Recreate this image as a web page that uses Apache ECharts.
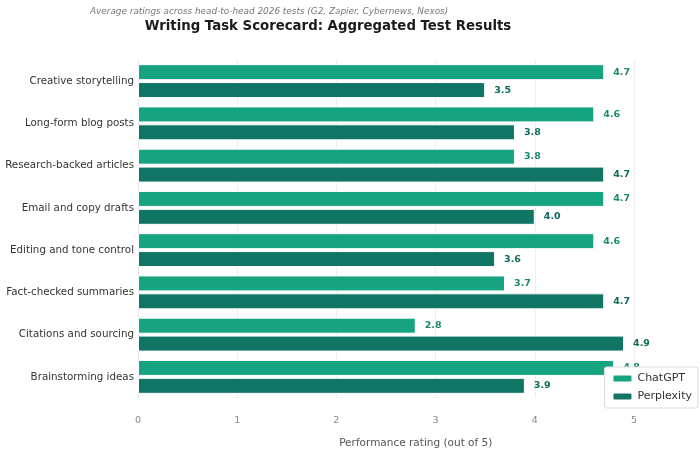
<!DOCTYPE html>
<html><head><meta charset="utf-8">
<script src="https://cdn.jsdelivr.net/npm/echarts@6/dist/echarts.min.js"></script>
<style>html,body{margin:0;padding:0;background:#fff}#c{width:700px;height:454px}</style>
</head><body><div id="c"></div>
<script>
const categories = ["Creative storytelling","Long-form blog posts","Research-backed articles","Email and copy drafts","Editing and tone control","Fact-checked summaries","Citations and sourcing","Brainstorming ideas"];
const chatgpt = [4.7,4.6,3.8,4.7,4.6,3.7,2.8,4.8];
const perplexity = [3.5,3.8,4.7,4.0,3.6,4.7,4.9,3.9];
const xTicks = [0,1,2,3,4,5];

const chart = echarts.init(document.getElementById('c'));
const font = 'DejaVu Sans';
chart.setOption({
  animation:false,
  textStyle:{fontFamily:font},
  title:[
    {text:'Average ratings across head-to-head 2026 tests (G2, Zapier, Cybernews, Nexos)', left:85, top:2,
     textStyle:{fontSize:8.9, fontStyle:'italic', fontWeight:'normal', color:'#777', fontFamily:font}},
    {text:'Writing Task Scorecard: Aggregated Test Results', left:323, textAlign:'center', top:15,
     textStyle:{fontSize:13.3, fontWeight:'bold', color:'#1a1a1a', fontFamily:font}}
  ],
  legend:{
    data:['ChatGPT','Perplexity'], orient:'vertical', right:2, top:367,
    itemWidth:20, itemHeight:8, itemGap:7, padding:[6,6,6,7],
    backgroundColor:'#fff', borderColor:'#ddd', borderWidth:1, borderRadius:2,
    textStyle:{fontSize:11, color:'#333', fontFamily:font}
  },
  grid:{left:138, right:6.5, top:60, bottom:56, containLabel:false, outerBoundsMode:'none'},
  xAxis:{
    type:'value', min:0, max:5.6, interval:1,
    name:'Performance rating (out of 5)', nameLocation:'middle', nameGap:40,
    nameTextStyle:{fontSize:10.5, color:'#555', fontFamily:font},
    axisLine:{show:false}, axisTick:{show:false},
    axisLabel:{fontSize:9.5, color:'#888', margin:18, formatter:v => xTicks.includes(v) ? String(v) : ''},
    splitLine:{show:true, showMaxLine:false, lineStyle:{color:'#eee', width:1}}
  },
  yAxis:{
    type:'category', data:categories, inverse:true,
    axisLine:{show:true, lineStyle:{color:'#e6e6e6'}}, axisTick:{show:false},
    axisLabel:{fontSize:10.3, color:'#333', margin:4}
  },
  series:[
    {name:'ChatGPT', type:'bar', data:chatgpt, barWidth:16, barGap:'12%',
     itemStyle:{color:'#16a37f', borderColor:'#fff', borderWidth:1},
     label:{show:true, position:'right', distance:9, formatter:p=>p.value.toFixed(1), fontSize:9.5, fontWeight:'bold', color:'#1a8a6c'}},
    {name:'Perplexity', type:'bar', data:perplexity, barWidth:16,
     itemStyle:{color:'#107565', borderColor:'#fff', borderWidth:1},
     label:{show:true, position:'right', distance:9, formatter:p=>p.value.toFixed(1), fontSize:9.5, fontWeight:'bold', color:'#0f6b5c'}}
  ]
});
</script></body></html>
